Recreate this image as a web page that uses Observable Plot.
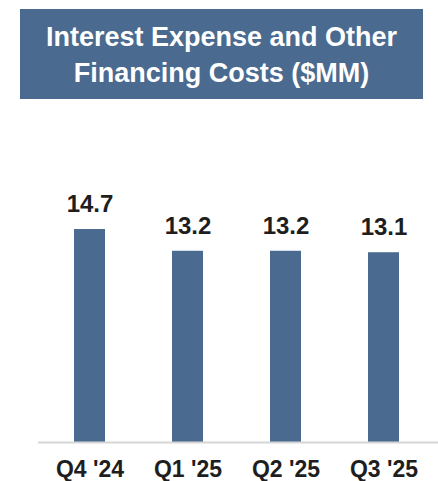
<!DOCTYPE html>
<html>
<head>
<meta charset="utf-8">
<script src="https://cdn.jsdelivr.net/npm/d3@7"></script>
<script src="https://cdn.jsdelivr.net/npm/@observablehq/plot@0.6"></script>
<style>
  html, body { margin: 0; padding: 0; background: #fff; }
  body { width: 438px; height: 481px; position: relative; overflow: hidden; font-family: "Liberation Sans", Arial, sans-serif; }
  #title {
    position: absolute; left: 20px; top: 9px; width: 403px; height: 90px;
    background: #4a6b8f; color: #fff; font-weight: bold; font-size: 27px;
    line-height: 35.5px; text-align: center; box-sizing: border-box; padding-top: 11px;
  }
  #chart { position: absolute; left: 0; top: 99px; }
</style>
</head>
<body>
<div id="title">Interest Expense and Other<br>Financing Costs ($MM)</div>
<div id="chart"></div>
<script>
const quarters = ["Q4 '24", "Q1 '25", "Q2 '25", "Q3 '25"];
const values = [14.7, 13.2, 13.2, 13.1];

const data = quarters.map((q, i) => ({quarter: q, value: values[i]}));

const chart = Plot.plot({
  width: 438,
  height: 382,
  marginLeft: 38,
  marginRight: 0,
  marginTop: 0,
  marginBottom: 39,
  style: {fontFamily: "'Liberation Sans', Arial, sans-serif", background: "transparent"},
  x: {domain: quarters, range: [23, 449], padding: 0.686, paddingOuter: 0.5, label: null},
  y: {domain: [0, 16], range: [343, 111.2], axis: null},
  marks: [
    Plot.barY(data, {x: "quarter", y: "value", fill: "#4a6b8f"}),
    Plot.ruleY([0], {stroke: "#d6d6d6", strokeWidth: 2}),
    Plot.text(data, {x: "quarter", y: "value", text: d => d.value.toFixed(1), dy: -25,
      fontSize: 24, fontWeight: "bold", fill: "#1e1e1e"}),
    Plot.axisX({tickSize: 0, tickPadding: 18, fontSize: 23, fontWeight: "bold", color: "#1e1e1e", label: null})
  ]
});
document.getElementById("chart").appendChild(chart);
</script>
</body>
</html>
